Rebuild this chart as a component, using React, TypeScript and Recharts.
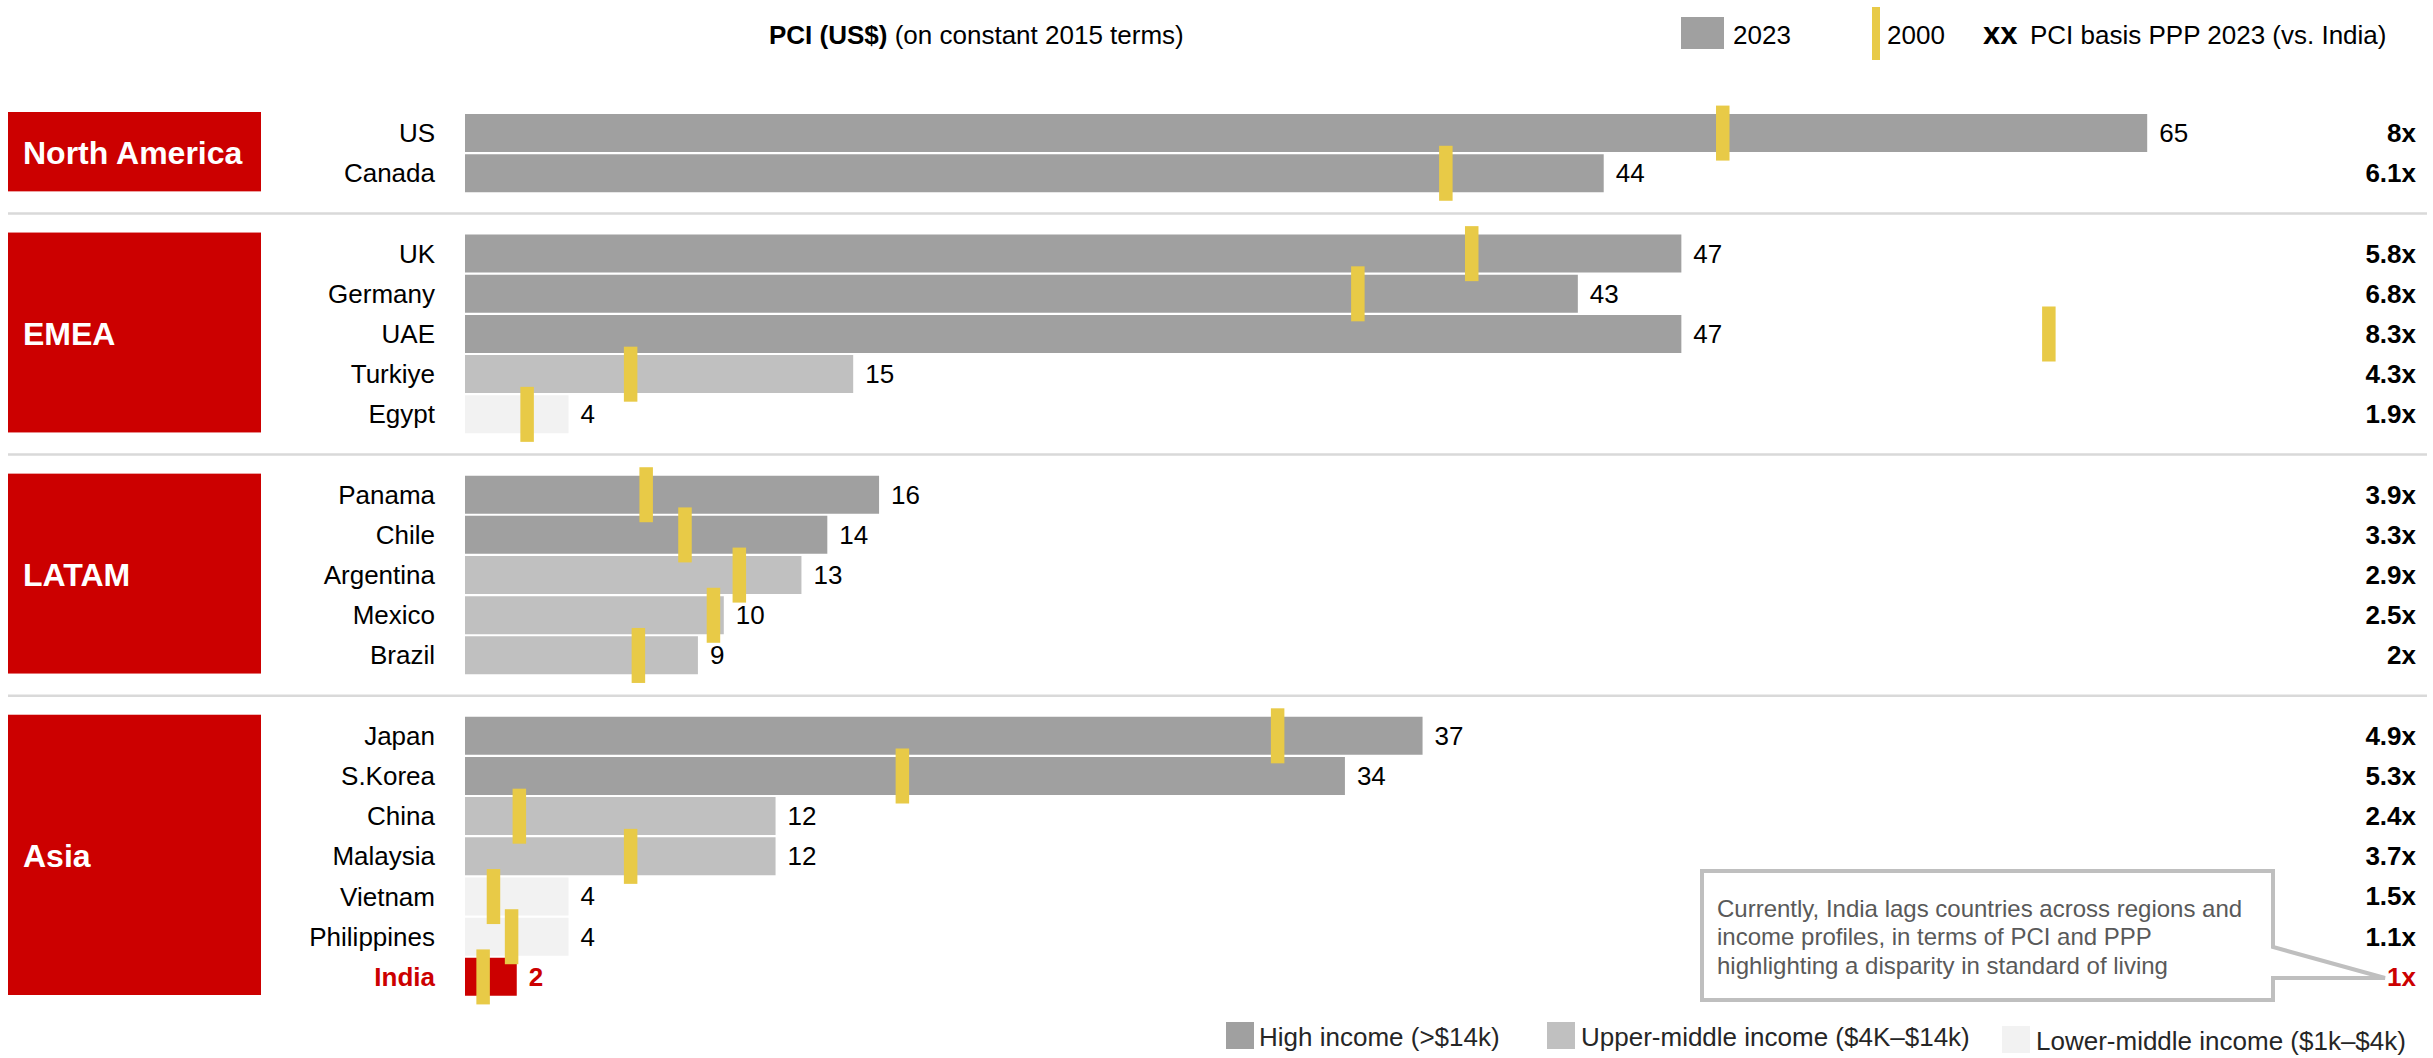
import {
    ComposedChart,
    Bar,
    Scatter,
    XAxis,
    YAxis,
    Cell,
    LabelList,
    ReferenceArea,
    ReferenceLine,
} from 'recharts';

const FONT = '"Liberation Sans", Arial, Helvetica, sans-serif';

// PCI (US$ '000, constant 2015 terms) per country, grouped by region
const regionNames = ['North America', 'EMEA', 'LATAM', 'Asia'];
const countries = [
    'US', 'Canada',
    'UK', 'Germany', 'UAE', 'Turkiye', 'Egypt',
    'Panama', 'Chile', 'Argentina', 'Mexico', 'Brazil',
    'Japan', 'S.Korea', 'China', 'Malaysia', 'Vietnam', 'Philippines', 'India',
];
const countryRegion = [0, 0, 1, 1, 1, 1, 1, 2, 2, 2, 2, 2, 3, 3, 3, 3, 3, 3, 3];
const pci2023 = [65, 44, 47, 43, 47, 15, 4, 16, 14, 13, 10, 9, 37, 34, 12, 12, 4, 4, 2];
const pci2000 = [48.6, 37.9, 38.9, 34.5, 61.2, 6.4, 2.4, 7.0, 8.5, 10.6, 9.6, 6.7, 31.4, 16.9, 2.1, 6.4, 1.1, 1.8, 0.7];
const pppVsIndia = ['8x', '6.1x', '5.8x', '6.8x', '8.3x', '4.3x', '1.9x', '3.9x', '3.3x', '2.9x', '2.5x', '2x', '4.9x', '5.3x', '2.4x', '3.7x', '1.5x', '1.1x', '1x'];
const incomeGroup = [
    'high', 'high', 'high', 'high', 'high', 'upper', 'lower',
    'high', 'high', 'upper', 'upper', 'upper',
    'high', 'high', 'upper', 'upper', 'lower', 'lower', 'lower',
];
const focusCountry = 'India';

const incomeColors: Record<string, string> = {
    high: '#a0a0a0',
    upper: '#c0c0c0',
    lower: '#f2f2f2',
};
const RED = '#cc0000';
const YELLOW = '#e8ca47';

interface Row {
    key: string;
    pci?: number;
    pciFocus?: number;
    v2000?: number;
    ppp?: string;
    pppFocus?: string;
    income?: string;
}

// one empty row between regions keeps the groups apart
const rows: Row[] = [];
countries.forEach((c, i) => {
    if (i > 0 && countryRegion[i] !== countryRegion[i - 1]) {
        rows.push({ key: `gap-${countryRegion[i]}` });
    }
    const focus = c === focusCountry;
    rows.push({
        key: c,
        pci: focus ? undefined : pci2023[i],
        pciFocus: focus ? pci2023[i] : undefined,
        v2000: pci2000[i],
        ppp: focus ? undefined : pppVsIndia[i],
        pppFocus: focus ? pppVsIndia[i] : undefined,
        income: incomeGroup[i],
    });
});

const regionSpans = regionNames.map((name, r) => {
    const members = countries.filter((_, i) => countryRegion[i] === r);
    return { name, first: members[0], last: members[members.length - 1] };
});
const gapKeys = rows.filter(r => r.key.startsWith('gap-')).map(r => r.key);

const CountryTick = ({ x, y, payload }: any) => {
    const label: string = payload.value;
    if (label.startsWith('gap-')) return null;
    const focus = label === focusCountry;
    return (
        <text
            x={x}
            y={y}
            textAnchor="end"
            dominantBaseline="central"
            fontFamily={FONT}
            fontSize={26}
            fontWeight={focus ? 700 : 400}
            fill={focus ? RED : '#000'}
        >
            {label}
        </text>
    );
};

// 2000 value drawn as a short vertical tick across the bar
const Marker2000 = (props: any) => {
    const { cx, cy } = props;
    if (cx == null || cy == null || isNaN(cx) || isNaN(cy)) return null;
    return <rect x={cx - 6.75} y={cy - 27.5} width={13.5} height={55} fill={YELLOW} />;
};

const valueLabel = (color: string, bold: boolean) => (props: any) => {
    const { x, y, width, height, value } = props;
    if (value == null) return null;
    return (
        <text
            x={x + width + 12}
            y={y + height / 2}
            dominantBaseline="central"
            fontFamily={FONT}
            fontSize={26}
            fontWeight={bold ? 700 : 400}
            fill={color}
        >
            {value}
        </text>
    );
};

const pppLabel = (color: string) => (props: any) => {
    const { y, height, value } = props;
    if (value == null) return null;
    return (
        <text
            x={2416}
            y={y + height / 2}
            textAnchor="end"
            dominantBaseline="central"
            fontFamily={FONT}
            fontSize={26}
            fontWeight={700}
            fill={color}
        >
            {value}
        </text>
    );
};

const regionBox = (name: string) => (props: any) => {
    const { y, height } = props;
    return (
        <g>
            <rect x={8} y={y - 1} width={253} height={height - 1} fill={RED} />
            <text
                x={23}
                y={y + height / 2}
                dominantBaseline="central"
                fontFamily={FONT}
                fontSize={32}
                fontWeight={700}
                fill="#fff"
            >
                {name}
            </text>
        </g>
    );
};

const separator = (props: any) => (
    <line x1={8} x2={2427} y1={props.y1} y2={props.y1} stroke="#d9d9d9" strokeWidth={2.5} />
);

const abs = (left: number, top: number): React.CSSProperties => ({
    position: 'absolute',
    left,
    top,
    whiteSpace: 'nowrap',
});

const Swatch = ({ left, top, w, h, color }: any) => (
    <div style={{ ...abs(left, top), width: w, height: h, background: color }} />
);

const Caption = ({ left, cy, children, color = '#000' }: any) => (
    <span style={{ ...abs(left, cy - 13), fontSize: 26, lineHeight: '26px', color }}>
        {children}
    </span>
);

const calloutLines = [
    'Currently, India lags countries across regions and',
    'income profiles, in terms of PCI and PPP',
    'highlighting a disparity in standard of living',
];

const LEGEND_TEXT = '#262626';

const App = () => {
    return (
        <div
            style={{
                position: 'absolute',
                left: 0,
                top: 0,
                width: 2433,
                height: 1058,
                background: '#fff',
                fontFamily: FONT,
                overflow: 'hidden',
            }}
        >
            {/* header: title and series legend */}
            <span style={{ ...abs(769, 22), fontSize: 26, lineHeight: '26px' }}>
                <b>PCI (US$)</b> (on constant 2015 terms)
            </span>
            <Swatch left={1681} top={17} w={43} h={32} color={incomeColors.high} />
            <Caption left={1733} cy={35}>2023</Caption>
            <Swatch left={1872} top={7} w={8} h={53} color={YELLOW} />
            <Caption left={1887} cy={35}>2000</Caption>
            <span style={{ ...abs(1983, 18), fontSize: 31, lineHeight: '31px', fontWeight: 700 }}>xx</span>
            <Caption left={2030} cy={35}>PCI basis PPP 2023 (vs. India)</Caption>

            <div style={{ position: 'absolute', left: 0, top: 0 }}>
                <ComposedChart
                    layout="vertical"
                    width={2433}
                    height={1058}
                    data={rows}
                    margin={{ top: 113, right: 27, bottom: 61, left: 0 }}
                    barCategoryGap={0}
                >
                    <XAxis type="number" domain={[0, 75]} hide />
                    <YAxis
                        type="category"
                        dataKey="key"
                        width={465}
                        interval={0}
                        tick={<CountryTick />}
                        tickLine={false}
                        axisLine={false}
                        tickSize={0}
                        tickMargin={30}
                    />
                    {regionSpans.map(r => (
                        <ReferenceArea
                            key={r.name}
                            y1={r.first}
                            y2={r.last}
                            ifOverflow="visible"
                            shape={regionBox(r.name)}
                        />
                    ))}
                    {gapKeys.map(k => (
                        <ReferenceLine key={k} y={k} ifOverflow="visible" shape={separator} />
                    ))}
                    <Bar dataKey="pci" stackId="pci" barSize={38} isAnimationActive={false}>
                        {rows.map(r => (
                            <Cell key={r.key} fill={incomeColors[r.income ?? 'high']} />
                        ))}
                        <LabelList dataKey="pci" content={valueLabel('#000', false)} />
                        <LabelList dataKey="ppp" content={pppLabel('#000')} />
                    </Bar>
                    <Bar dataKey="pciFocus" stackId="pci" barSize={38} fill={RED} isAnimationActive={false}>
                        <LabelList dataKey="pciFocus" content={valueLabel(RED, true)} />
                        <LabelList dataKey="pppFocus" content={pppLabel(RED)} />
                    </Bar>
                    <Scatter dataKey="v2000" shape={Marker2000} isAnimationActive={false} />
                </ComposedChart>
            </div>

            {/* callout next to India's multiple */}
            <svg
                width={2433}
                height={1058}
                style={{ position: 'absolute', left: 0, top: 0, pointerEvents: 'none' }}
            >
                <path
                    d="M1702,871 H2273 V947 L2385,978 H2273 V1000 H1702 Z"
                    fill="#fff"
                    stroke="#bfbfbf"
                    strokeWidth={4}
                />
                {calloutLines.map((line, i) => (
                    <text
                        key={line}
                        x={1717}
                        y={908 + i * 28.5}
                        dominantBaseline="central"
                        fontFamily={FONT}
                        fontSize={24}
                        fill="#595959"
                    >
                        {line}
                    </text>
                ))}
            </svg>

            {/* income group legend */}
            <Swatch left={1226} top={1022} w={28} h={27} color={incomeColors.high} />
            <Caption left={1259} cy={1037} color={LEGEND_TEXT}>High income (&gt;$14k)</Caption>
            <Swatch left={1547} top={1022} w={28} h={27} color={incomeColors.upper} />
            <Caption left={1581} cy={1037} color={LEGEND_TEXT}>Upper-middle income ($4K–$14k)</Caption>
            <Swatch left={2002} top={1026} w={28} h={27} color={incomeColors.lower} />
            <Caption left={2036} cy={1041} color={LEGEND_TEXT}>Lower-middle income ($1k–$4k)</Caption>
        </div>
    );
};

export default App;
